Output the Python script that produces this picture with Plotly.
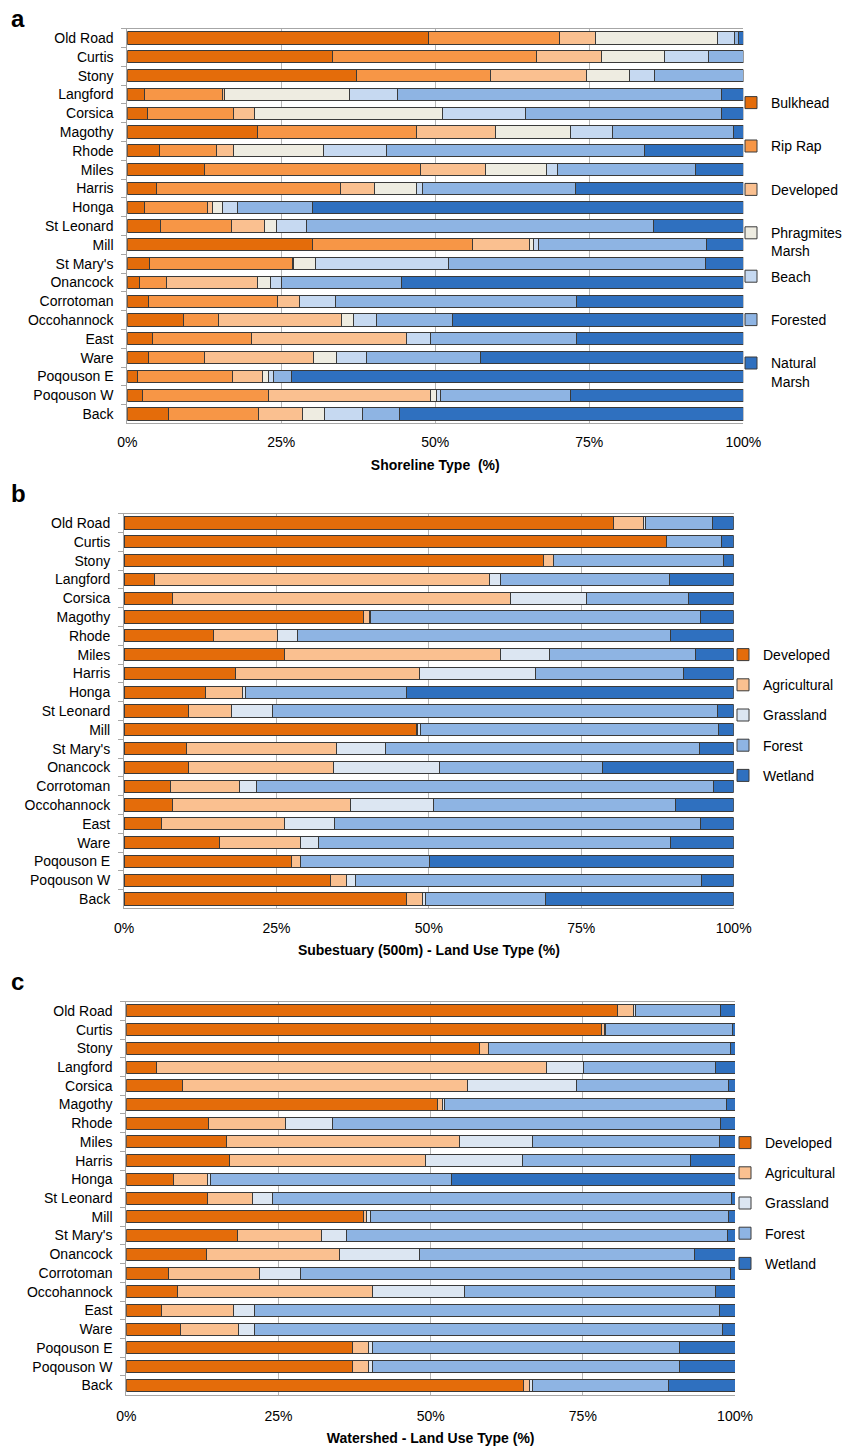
import plotly.graph_objects as go

sites = ["Old Road", "Curtis", "Stony", "Langford", "Corsica", "Magothy", "Rhode", "Miles",
         "Harris", "Honga", "St Leonard", "Mill", "St Mary's", "Onancock", "Corrotoman",
         "Occohannock", "East", "Ware", "Poqouson E", "Poqouson W", "Back"]

# Panel a: shoreline type (%)
shore_names = ["Bulkhead", "Rip Rap", "Developed", "Phragmites<br>Marsh", "Beach", "Forested", "Natural<br>Marsh"]
bulkhead = [48.9, 33.3, 37.2, 2.8, 3.2, 21.1, 5.3, 12.6, 4.7, 2.8, 5.4, 30.0, 3.6, 1.9, 3.4, 9.2, 4.1, 3.5, 1.7, 2.4, 6.7]
rip_rap = [21.3, 33.2, 21.8, 12.7, 14.1, 25.9, 9.2, 35.0, 29.9, 10.2, 11.5, 26.1, 23.2, 4.5, 21.0, 5.6, 16.0, 9.0, 15.3, 20.6, 14.6]
shore_developed = [5.8, 10.5, 15.6, 0.2, 3.3, 12.7, 2.7, 10.6, 5.6, 0.8, 5.3, 9.2, 0.1, 14.8, 3.5, 20.0, 25.3, 17.8, 5.0, 26.3, 7.1]
phragmites = [19.8, 10.2, 6.9, 20.3, 30.6, 12.3, 14.7, 9.8, 6.7, 1.6, 2.0, 0.6, 3.7, 2.0, 0.0, 2.0, 0.0, 3.6, 1.0, 0.9, 3.6]
beach = [2.7, 7.1, 4.1, 7.9, 13.5, 6.7, 10.1, 1.8, 1.0, 2.5, 4.9, 0.9, 21.5, 1.9, 5.9, 3.7, 3.9, 5.0, 0.8, 0.7, 6.1]
forested = [0.7, 5.7, 14.4, 52.6, 31.7, 19.7, 41.9, 22.4, 24.8, 12.1, 56.3, 27.2, 41.8, 19.4, 39.2, 12.3, 23.7, 18.5, 2.8, 21.0, 6.1]
natural_marsh = [0.8, 0.0, 0.0, 3.5, 3.6, 1.6, 16.1, 7.8, 27.3, 70.0, 14.6, 6.0, 6.1, 55.5, 27.0, 47.2, 27.0, 42.6, 73.4, 28.1, 55.8]

# Panel b: subestuary (500 m) land use (%)
land_names = ["Developed", "Agricultural", "Grassland", "Forest", "Wetland"]
sub_developed = [80.3, 88.9, 68.8, 5.0, 8.0, 39.2, 14.7, 26.4, 18.3, 13.4, 10.6, 47.9, 10.2, 10.5, 7.7, 7.9, 6.2, 15.7, 27.4, 33.8, 46.4]
sub_agricultural = [4.9, 0.0, 1.6, 54.9, 55.4, 1.1, 10.5, 35.4, 30.1, 6.1, 7.1, 0.2, 24.7, 23.9, 11.3, 29.2, 20.2, 13.2, 1.6, 2.7, 2.6]
sub_grassland = [0.4, 0.0, 0.0, 1.9, 12.5, 0.2, 3.2, 8.0, 19.1, 0.5, 6.6, 0.6, 8.0, 17.3, 2.7, 13.6, 8.2, 3.0, 0.0, 1.4, 0.4]
sub_forest = [11.0, 9.1, 28.0, 27.7, 16.7, 54.0, 61.3, 23.9, 24.3, 26.3, 73.1, 48.8, 51.5, 26.8, 75.0, 39.7, 59.9, 57.7, 21.1, 56.8, 19.7]
sub_wetland = [3.4, 2.0, 1.6, 10.5, 7.4, 5.5, 10.3, 6.3, 8.2, 53.7, 2.6, 2.5, 5.6, 21.5, 3.3, 9.6, 5.5, 10.4, 49.9, 5.3, 30.9]

# Panel c: watershed land use (%)
ws_developed = [80.7, 78.0, 58.1, 4.9, 9.2, 51.1, 13.5, 16.4, 17.0, 7.7, 13.4, 39.0, 18.2, 13.1, 7.0, 8.4, 5.8, 8.9, 37.1, 37.1, 65.3]
ws_agricultural = [2.7, 0.6, 1.4, 64.1, 46.8, 0.9, 12.6, 38.4, 32.1, 5.6, 7.4, 0.4, 13.9, 21.9, 14.9, 32.0, 11.8, 9.5, 2.7, 2.7, 1.0]
ws_grassland = [0.2, 0.2, 0.0, 6.1, 17.9, 0.2, 7.7, 11.9, 16.0, 0.6, 3.2, 0.7, 4.0, 13.2, 6.7, 15.2, 3.5, 2.6, 0.6, 0.6, 0.4]
ws_forest = [14.0, 20.8, 39.7, 21.7, 25.0, 46.4, 63.8, 30.7, 27.6, 39.5, 75.4, 58.9, 62.6, 45.2, 70.6, 41.2, 76.4, 76.9, 50.4, 50.4, 22.4]
ws_wetland = [2.4, 0.4, 0.8, 3.2, 1.1, 1.4, 2.4, 2.6, 7.3, 46.6, 0.6, 1.0, 1.3, 6.6, 0.8, 3.2, 2.5, 2.1, 9.2, 9.2, 10.9]

x_tickvals = [0, 25, 50, 75, 100]
x_ticktext = ["0%", "25%", "50%", "75%", "100%"]

shore_colors = ["#E46C0A", "#F79646", "#FAC090", "#EEECE1", "#C6D9F1", "#8EB4E3", "#2F70BF"]
land_colors = ["#E46C0A", "#FAC090", "#DCE6F2", "#8EB4E3", "#2F70BF"]

FONT = "Liberation Sans, Arial, sans-serif"
fig = go.Figure()

panels = [
    ("x", "y", "legend", shore_names, [bulkhead, rip_rap, shore_developed, phragmites, beach, forested, natural_marsh], shore_colors),
    ("x2", "y2", "legend2", land_names, [sub_developed, sub_agricultural, sub_grassland, sub_forest, sub_wetland], land_colors),
    ("x3", "y3", "legend3", land_names, [ws_developed, ws_agricultural, ws_grassland, ws_forest, ws_wetland], land_colors),
]

for pi, (xa, ya, lg, names, series, colors) in enumerate(panels):
    for si, (nm, vals, col) in enumerate(zip(names, series, colors)):
        label = nm if "<br>" in nm or pi > 0 else nm + "<br> "
        fig.add_trace(go.Bar(
            y=sites, x=vals, orientation="h", name=label,
            marker=dict(color=col, line=dict(color="#3A3A3A", width=1)),
            xaxis=xa, yaxis=ya, legend=lg, legendgroup=f"p{pi}s{si}",
        ))

domains = [
    ([127.3 / 859, 743.3 / 859], [1 - 423.4 / 1448, 1 - 28.6 / 1448], "Shoreline Type  (%)", 6, 10),
    ([124.0 / 859, 733.7 / 859], [1 - 908.4 / 1448, 1 - 513.6 / 1448], "Subestuary (500m) - Land Use Type (%)", 7, 9),
    ([126.3 / 859, 735.0 / 859], [1 - 1394.7 / 1448, 1 - 1001.6 / 1448], "Watershed - Land Use Type (%)", 8, 10),
]

axis_line = "#A6A6A6"
for i, (xd, yd, title, lblgap, tgap) in enumerate(domains):
    sfx = "" if i == 0 else str(i + 1)
    fig.layout["xaxis" + sfx] = dict(
        domain=xd, anchor="y" + sfx, range=[0, 100], tickvals=x_tickvals, ticktext=x_ticktext,
        showgrid=True, gridcolor="#B5B5B5", gridwidth=1, showline=True, linecolor=axis_line, mirror=True,
        ticks="", zeroline=False, automargin=False, ticklabelstandoff=lblgap,
        tickfont=dict(family=FONT, size=14, color="black"),
        title=dict(text="<b>" + title + "</b>", font=dict(family=FONT, size=14, color="black"), standoff=tgap),
    )
    fig.layout["yaxis" + sfx] = dict(
        domain=yd, anchor="x" + sfx, type="category", categoryorder="array", categoryarray=sites,
        autorange="reversed", showline=True, linecolor=axis_line, ticks="outside", ticklen=5,
        tickcolor=axis_line, tickson="boundaries", showgrid=False, automargin=False,
        tickfont=dict(family=FONT, size=14, color="black"), ticklabelstandoff=10,
    )

fig.update_layout(
    width=859, height=1448, barmode="stack", bargap=0.36,
    margin=dict(l=0, r=0, t=0, b=0, pad=0, autoexpand=False),
    paper_bgcolor="white", plot_bgcolor="white",
    font=dict(family=FONT, size=14, color="black"),
    legend=dict(x=731 / 859, y=1 - 87 / 1448, xanchor="left", yanchor="top", traceorder="grouped",
                tracegroupgap=4, valign="top", font=dict(family=FONT, size=14, color="black"),
                bgcolor="rgba(0,0,0,0)", itemwidth=30),
    legend2=dict(x=723 / 859, y=1 - 639 / 1448, xanchor="left", yanchor="top", traceorder="grouped",
                 tracegroupgap=9, font=dict(family=FONT, size=14, color="black"), bgcolor="rgba(0,0,0,0)", itemwidth=30),
    legend3=dict(x=725 / 859, y=1 - 1127 / 1448, xanchor="left", yanchor="top", traceorder="grouped",
                 tracegroupgap=9, font=dict(family=FONT, size=14, color="black"), bgcolor="rgba(0,0,0,0)", itemwidth=30),
    annotations=[
        dict(text="<b>a</b>", x=9 / 859, y=1 - 19 / 1448, xref="paper", yref="paper", showarrow=False,
             xanchor="left", yanchor="middle", font=dict(family=FONT, size=24, color="black")),
        dict(text="<b>b</b>", x=9 / 859, y=1 - 494 / 1448, xref="paper", yref="paper", showarrow=False,
             xanchor="left", yanchor="middle", font=dict(family=FONT, size=24, color="black")),
        dict(text="<b>c</b>", x=9 / 859, y=1 - 981 / 1448, xref="paper", yref="paper", showarrow=False,
             xanchor="left", yanchor="middle", font=dict(family=FONT, size=24, color="black")),
    ],
)

fig.write_html("out.html", config={"displayModeBar": False},
               post_script="document.body.style.margin='0px';")
